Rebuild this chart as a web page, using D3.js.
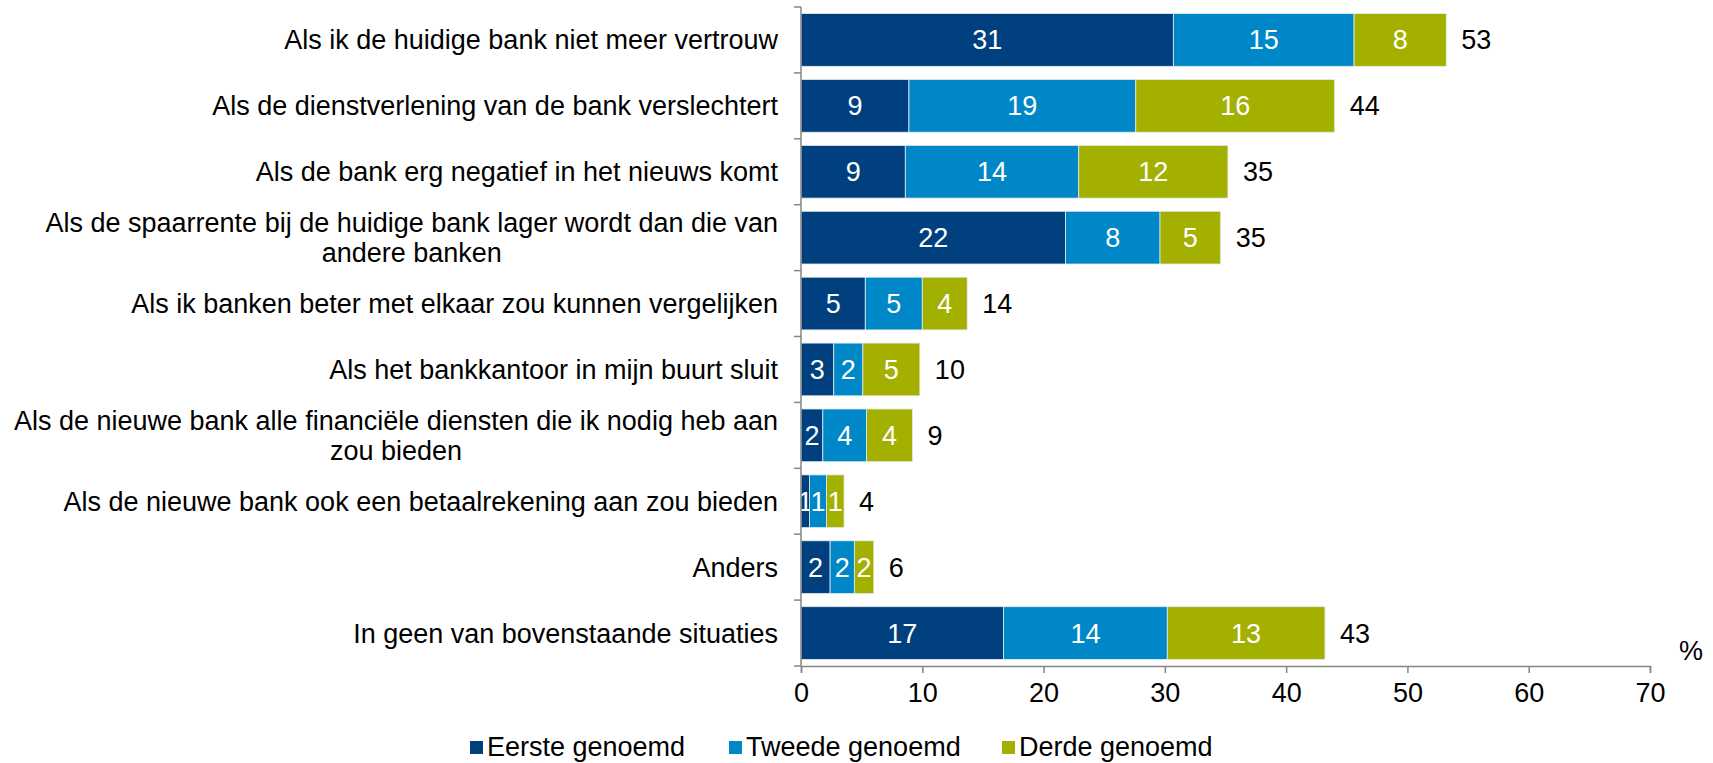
<!DOCTYPE html>
<html lang="nl">
<head>
    <meta charset="UTF-8">
    <title>Wanneer overstappen naar een andere bank</title>
    <script src="https://d3js.org/d3.v7.min.js"></script>
    <style>
        body { margin: 0; background: #fff; font-family: 'Liberation Sans', Arial, sans-serif; }
        #chart svg { display: block; }
    </style>
</head>
<body>
    <div id="chart"></div>

    <script>
        // Categories (\n = line break as in the original)
        const categories = [
            "Als ik de huidige bank niet meer vertrouw",
            "Als de dienstverlening van de bank verslechtert",
            "Als de bank erg negatief in het nieuws komt",
            "Als de spaarrente bij de huidige bank lager wordt dan die van\nandere banken",
            "Als ik banken beter met elkaar zou kunnen vergelijken",
            "Als het bankkantoor in mijn buurt sluit",
            "Als de nieuwe bank alle financiële diensten die ik nodig heb aan\nzou bieden",
            "Als de nieuwe bank ook een betaalrekening aan zou bieden",
            "Anders",
            "In geen van bovenstaande situaties"
        ];

        const seriesNames = ["Eerste genoemd", "Tweede genoemd", "Derde genoemd"];
        const seriesColors = ["#00407f", "#0087c8", "#a4b000"];

        // Percentages
        const eerste = [30.7, 8.9, 8.6, 21.8, 5.3, 2.7, 1.8, 0.7, 2.4, 16.7];
        const tweede = [14.9, 18.7, 14.3, 7.8, 4.7, 2.4, 3.6, 1.4, 2.0, 13.5];
        const derde  = [7.6, 16.4, 12.3, 5.0, 3.7, 4.7, 3.8, 1.45, 1.6, 13.0];

        const xTicks = [0, 10, 20, 30, 40, 50, 60, 70];

        const W = 1713, H = 763;
        const plotL = 801, plotR = 1650, plotT = 7, plotB = 666;
        const fontSize = 27;

        const svg = d3.select("#chart").append("svg")
            .attr("width", W)
            .attr("height", H);

        const x = d3.scaleLinear().domain([0, 70]).range([plotL, plotR]);
        const y = d3.scaleBand().domain(d3.range(categories.length))
            .range([plotT, plotB]).paddingInner(0.2).paddingOuter(0.1);

        const rows = categories.map((c, i) => ({ i, vals: [eerste[i], tweede[i], derde[i]] }));

        // Stacked segments
        rows.forEach(r => {
            let x0 = 0;
            r.vals.forEach((v, s) => {
                const g = svg.append("g");
                g.append("rect")
                    .attr("x", x(x0))
                    .attr("y", y(r.i))
                    .attr("width", x(x0 + v) - x(x0))
                    .attr("height", y.bandwidth())
                    .attr("fill", seriesColors[s])
                    .attr("stroke", "#e3ebf0")
                    .attr("stroke-width", 0.8);
                g.append("text")
                    .attr("x", (x(x0) + x(x0 + v)) / 2)
                    .attr("y", y(r.i) + y.bandwidth() / 2)
                    .attr("dy", "0.35em")
                    .attr("text-anchor", "middle")
                    .attr("fill", "#fff")
                    .attr("font-size", fontSize)
                    .text(Math.round(v));
                x0 += v;
            });
            // total label
            svg.append("text")
                .attr("x", x(x0) + 15)
                .attr("y", y(r.i) + y.bandwidth() / 2)
                .attr("dy", "0.35em")
                .attr("fill", "#000")
                .attr("font-size", fontSize)
                .text(Math.round(x0));
        });

        // Y axis line + ticks at band boundaries
        const axisColor = "#868686";
        svg.append("line")
            .attr("x1", plotL).attr("x2", plotL)
            .attr("y1", plotT).attr("y2", plotB)
            .attr("stroke", axisColor).attr("stroke-width", 1.5);
        d3.range(categories.length + 1).forEach(k => {
            const yy = plotT + k * y.step();
            svg.append("line")
                .attr("x1", plotL - 7).attr("x2", plotL)
                .attr("y1", yy).attr("y2", yy)
                .attr("stroke", axisColor).attr("stroke-width", 1.5);
        });

        // Category labels (right aligned, wrapped lines centered on each other)
        const labelRight = 778;
        rows.forEach(r => {
            const lines = categories[r.i].split("\n");
            const cy = y(r.i) + y.bandwidth() / 2;
            const lh = 30.5;
            const t = svg.append("text")
                .attr("font-size", fontSize)
                .attr("fill", "#000");
            lines.forEach((ln, j) => {
                t.append("tspan")
                    .attr("x", 0)
                    .attr("y", cy + (j - (lines.length - 1) / 2) * lh)
                    .attr("dy", "0.35em")
                    .text(ln);
            });
            if (lines.length === 1) {
                t.attr("text-anchor", "end").selectAll("tspan").attr("x", labelRight);
            } else {
                const w = d3.max(t.selectAll("tspan").nodes(), n => n.getComputedTextLength());
                t.attr("text-anchor", "middle").selectAll("tspan").attr("x", labelRight - w / 2);
            }
        });

        // X axis
        const xAxis = svg.append("g")
            .attr("transform", `translate(0,${plotB})`)
            .call(d3.axisBottom(x).tickValues(xTicks).tickSize(7).tickPadding(10));
        xAxis.select(".domain").attr("stroke", axisColor).attr("stroke-width", 1.5);
        xAxis.selectAll(".tick line").attr("stroke", axisColor).attr("stroke-width", 1.5);
        xAxis.selectAll(".tick text")
            .attr("font-family", "'Liberation Sans', Arial, sans-serif")
            .attr("font-size", fontSize)
            .attr("fill", "#000");

        svg.append("text")
            .attr("x", 1691).attr("y", 651)
            .attr("dy", "0.35em")
            .attr("text-anchor", "middle")
            .attr("font-size", fontSize)
            .text("%");

        // Legend
        const legendX = [470, 729, 1002];
        seriesNames.forEach((name, s) => {
            svg.append("rect")
                .attr("x", legendX[s]).attr("y", 741)
                .attr("width", 13).attr("height", 13)
                .attr("fill", seriesColors[s]);
            svg.append("text")
                .attr("x", legendX[s] + 17).attr("y", 747)
                .attr("dy", "0.35em")
                .attr("font-size", fontSize)
                .text(name);
        });
    </script>
</body>
</html>
